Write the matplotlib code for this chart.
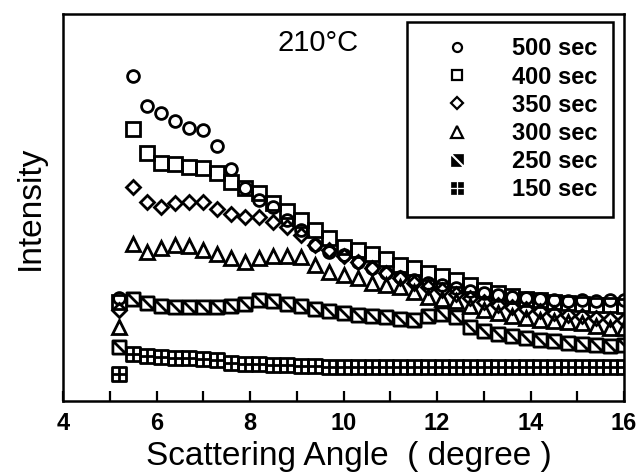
import matplotlib
matplotlib.use('Agg')
import matplotlib.pyplot as plt
from matplotlib.lines import Line2D
from matplotlib.path import Path

# %% Data (intensity in arbitrary units)
angle = [5.2, 5.5, 5.8, 6.1, 6.4, 6.7, 7.0, 7.3, 7.6, 7.9, 8.2, 8.5, 8.8,
         9.1, 9.4, 9.7, 10.0, 10.3, 10.6, 10.9, 11.2, 11.5, 11.8, 12.1,
         12.4, 12.7, 13.0, 13.3, 13.6, 13.9, 14.2, 14.5, 14.8, 15.1, 15.4,
         15.7, 16.0]

i_500 = [103, 325, 295, 288, 280, 273, 271, 255, 232, 213, 201, 194, 181,
         171, 156, 149, 146, 139, 133, 128, 124, 121, 118, 116, 113, 110,
         108, 106, 104, 103, 102, 101, 100, 101, 100, 101, 101]
i_400 = [99, 272, 248, 238, 237, 234, 233, 228, 219, 213, 208, 198, 190,
         181, 171, 163, 154, 151, 147, 142, 136, 133, 128, 125, 121, 116,
         111, 108, 105, 102, 101, 99, 98, 97, 96, 96, 95]
i_350 = [91, 214, 199, 194, 198, 199, 199, 192, 187, 184, 184, 179, 174,
         166, 156, 151, 145, 139, 133, 128, 123, 118, 114, 111, 107, 103,
         99, 96, 94, 92, 90, 88, 86, 85, 83, 82, 81]
i_300 = [74, 157, 149, 153, 156, 155, 151, 147, 143, 139, 143, 145, 145,
         144, 136, 129, 126, 123, 118, 116, 114, 109, 104, 102, 100, 95,
         91, 88, 85, 83, 81, 80, 79, 78, 75, 73, 73]
i_250 = [54, 102, 98, 95, 94, 94, 94, 94, 95, 97, 101, 100, 97,
         95, 92, 90, 88, 86, 85, 84, 82, 81, 85, 87, 84, 74,
         70, 67, 65, 63, 61, 60, 58, 57, 56, 55, 56]
i_150 = [27, 47, 45, 44, 43, 43, 42, 41, 38, 37, 37, 36, 36,
         35, 35, 34, 34, 34, 34, 34, 34, 34, 34, 34, 34, 34,
         34, 34, 34, 34, 34, 34, 34, 34, 34, 34, 34]

labels = ['500 sec', '400 sec', '350 sec', '300 sec', '250 sec', '150 sec']

# %% Custom markers
M, L, C = Path.MOVETO, Path.LINETO, Path.CLOSEPOLY
sq_diag = Path([(-1, -1), (1, -1), (1, 1), (-1, 1), (-1, -1), (-1, 1), (1, -1)],
               [M, L, L, L, C, M, L])
sq_cross = Path([(-1, -1), (1, -1), (1, 1), (-1, 1), (-1, -1),
                 (0, -1), (0, 1), (-1, 0), (1, 0)],
                [M, L, L, L, C, M, L, M, L])
# solid versions for the legend: black with a white diagonal / white cross
g = 0.35
leg_diag = Path([(-1, 1 - g), (-1, -1), (1 - g, -1), (-1, 1 - g),
                 (-1 + g, 1), (1, 1), (1, -1 + g), (-1 + g, 1)],
                [M, L, L, C, M, L, L, C])
h = 0.15
quads = []
for sx, sy in [(-1, -1), (h, -1), (-1, h), (h, h)]:
    quads += [(sx, sy), (sx + 1 - h, sy), (sx + 1 - h, sy + 1 - h),
              (sx, sy + 1 - h), (sx, sy)]
leg_cross = Path(quads, [M, L, L, L, C] * 4)

plt.rcParams['font.family'] = ['Liberation Sans', 'DejaVu Sans']

fig = plt.figure(figsize=(6.36, 4.75), dpi=100)
ax = fig.add_axes([63 / 636, 1 - 401 / 475, (624 - 63) / 636, (401 - 14) / 475])

style = dict(linestyle='none', color='black', mfc='none', mew=2)
ax.plot(angle, i_150, marker=sq_cross, ms=9.5, **style)
ax.plot(angle, i_250, marker=sq_diag, ms=9.5, **style)
ax.plot(angle, i_300, marker='^', ms=10, **style)
ax.plot(angle, i_350, marker='D', ms=7, **style)
ax.plot(angle, i_400, marker='s', ms=9.5, **style)
ax.plot(angle, i_500, marker='o', ms=8.5, **style)

ax.set_xlim(4, 16)
ax.set_ylim(0, 387)
ax.set_xticks([4, 6, 8, 10, 12, 14, 16])
ax.set_xticks([5, 7, 9, 11, 13, 15], minor=True)
ax.tick_params(axis='x', which='both', direction='in', length=7, width=1.6,
               labelsize=17, pad=8)
for t in ax.get_xticklabels():
    t.set_fontweight('bold')
ax.set_yticks([])
for s in ax.spines.values():
    s.set_linewidth(1.8)

ax.set_xlabel('Scattering Angle  ( degree )', fontsize=24, labelpad=0)
ax.xaxis.set_label_coords(0.51, -0.103)
ax.set_ylabel('Intensity', fontsize=24, labelpad=12)
ax.text(0.455, 0.925, '210°C', transform=ax.transAxes, fontsize=21,
        ha='center', va='center')

# %% Legend with small proxy markers
lk = dict(linestyle='none', color='black', mew=1.6)
handles = [
    Line2D([], [], marker='o', ms=6.5, mfc='none', **lk),
    Line2D([], [], marker='s', ms=7.5, mfc='none', **lk),
    Line2D([], [], marker='D', ms=6, mfc='none', **lk),
    Line2D([], [], marker='^', ms=8, mfc='none', **lk),
    Line2D([], [], marker=leg_diag, ms=9, linestyle='none',
           mfc='black', mec='black', mew=0.5),
    Line2D([], [], marker=leg_cross, ms=9, linestyle='none',
           mfc='black', mec='black', mew=0.5),
]
leg = ax.legend(handles, labels, loc='upper right',
                bbox_to_anchor=(613 / 636, 1 - 22 / 475),
                bbox_transform=fig.transFigure, borderaxespad=0,
                prop={'size': 17, 'weight': 'bold'}, labelspacing=0.22,
                handlelength=2.9, handletextpad=0.9, borderpad=0.65,
                fancybox=False, framealpha=1)
leg.get_frame().set_edgecolor('black')
leg.get_frame().set_linewidth(1.8)

fig.savefig('out.png', dpi=100)
